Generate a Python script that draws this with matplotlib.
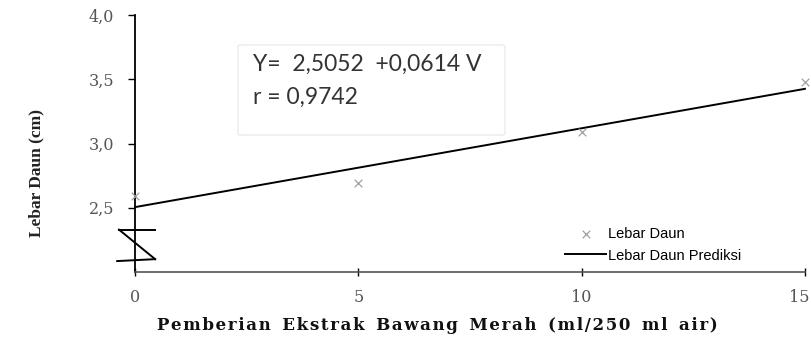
import numpy as np
import matplotlib
matplotlib.use("Agg")
import matplotlib.pyplot as plt
import matplotlib.transforms as mtransforms
from matplotlib.patches import FancyBboxPatch

# data
dosis = [0, 5, 10, 15]
lebar_daun = [2.59, 2.69, 3.09, 3.48]
a0, b0 = 2.5052, 0.0614
x_ticks = [0, 5, 10, 15]
y_ticks = [2.5, 3.0, 3.5, 4.0]
y_labels = ["2,5", "3,0", "3,5", "4,0"]

fig = plt.figure(figsize=(8.11, 3.42), dpi=100)
ax = fig.add_axes([0.1665, 0.2047, 0.826, 0.751])

ax.scatter(dosis, lebar_daun, marker="x", s=30, color="#a0a0a0", linewidths=0.9,
           label="Lebar Daun", zorder=3, clip_on=False)
xp = np.array([dosis[0], dosis[-1]])
ax.plot(xp, a0 + b0 * xp, color="black", lw=1.4, label="Lebar Daun Prediksi",
        clip_on=False)

# axis break mark
ax.plot([-0.36, 0.45], [2.33, 2.33], color="black", lw=1.4, clip_on=False)
ax.plot([-0.36, 0.45], [2.33, 2.10], color="black", lw=1.4, clip_on=False)
ax.plot([-0.40, 0.45], [2.085, 2.10], color="black", lw=1.4, clip_on=False)

ax.set_xlim(0, 15)
ax.set_ylim(2.0, 4.0)
ax.set_xticks(x_ticks)
ax.set_yticks(y_ticks)
ax.set_yticklabels(y_labels)
ax.set_xticklabels([str(v) for v in x_ticks])

for s in ["top", "right"]:
    ax.spines[s].set_visible(False)
ax.spines["left"].set_linewidth(1.3)
ax.spines["bottom"].set_color("#555555")
ax.spines["bottom"].set_linewidth(1.2)
ax.tick_params(axis="y", direction="out", length=5, width=1, pad=10,
               labelsize=12, labelcolor="#555555")
ax.tick_params(axis="x", direction="inout", length=6, width=1, pad=9,
               labelsize=12, labelcolor="#555555")
for lab in ax.get_xticklabels() + ax.get_yticklabels():
    lab.set_family("DejaVu Serif")
    lab.set_fontsize(11.5)
last = ax.get_xticklabels()[-1]
last.set_horizontalalignment("right")
last.set_transform(last.get_transform() +
                   mtransforms.ScaledTranslation(5 / 100, 0, fig.dpi_scale_trans))

fig.text(36 / 811, 1 - 173 / 342, "Lebar Daun (cm)", family="Liberation Serif",
         fontsize=12.5, fontweight="bold", rotation=90, ha="center", va="center",
         color="#222222")
xl = "Pemberian Ekstrak Bawang Merah (ml/250 ml air)"
fig.text(437 / 811, 1 - 326 / 342, "\u200a".join(xl).replace("\u200a \u200a", "  "),
         family="DejaVu Serif", fontweight="bold", fontsize=12,
         ha="center", va="center", color="#111111")

# equation box
box = FancyBboxPatch((238 / 811, 1 - 135 / 342), 267 / 811, 90 / 342,
                     boxstyle="round,pad=0,rounding_size=0.004",
                     transform=fig.transFigure, facecolor="white",
                     edgecolor="#ebebeb", lw=1)
fig.patches.append(box)
fig.text(253 / 811, 1 - 64 / 342, "Y=  2,5052  +0,0614 V", family="Lato",
         fontsize=16.5, color="#333333", va="center")
fig.text(253 / 811, 1 - 97 / 342, "r = 0,9742", family="Lato",
         fontsize=16.5, color="#333333", va="center")

ax.legend(loc="upper left", bbox_to_anchor=(558 / 811, 1 - 220 / 342),
          bbox_transform=fig.transFigure, frameon=False,
          prop={"family": "Liberation Sans", "size": 10.5}, handlelength=2.8,
          handletextpad=0.1, labelspacing=0.5, borderpad=0)

fig.savefig("out.png", dpi=100)
